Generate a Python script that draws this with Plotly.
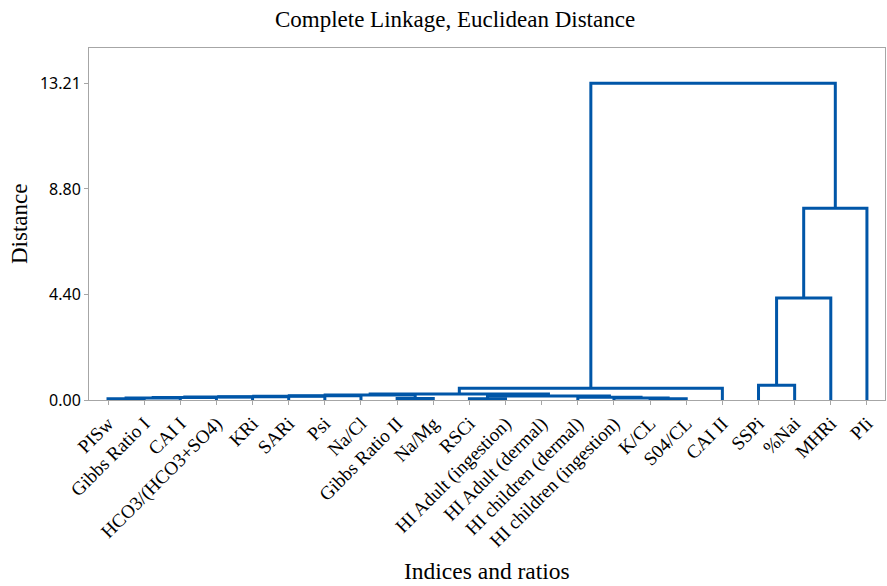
import plotly.graph_objects as go

# Leaf labels in dendrogram order
leaves = ["PISw", "Gibbs Ratio I", "CAI I", "HCO3/(HCO3+SO4)", "KRi", "SARi", "Psi",
          "Na/Cl", "Gibbs Ratio II", "Na/Mg", "RSCi", "HI Adult (ingestion)",
          "HI Adult (dermal)", "HI children (dermal)", "HI children (ingestion)",
          "K/CL", "S04/CL", "CAI II", "SSPi", "%Nai", "MHRi", "PIi"]

# Merge steps: (left member, right member, distance); members are leaf names or "#k" for step k
merge_left = ["PISw", "#0", "#1", "#2", "#3", "#4", "#5", "Gibbs Ratio II", "#6",
              "K/CL", "HI children (ingestion)", "HI children (dermal)", "RSCi", "#11",
              "#8", "#14", "SSPi", "#16", "#17", "#15"]
merge_right = ["Gibbs Ratio I", "CAI I", "HCO3/(HCO3+SO4)", "KRi", "SARi", "Psi", "Na/Cl",
               "Na/Mg", "#7", "S04/CL", "#9", "#10", "HI Adult (ingestion)", "#12",
               "#13", "CAI II", "%Nai", "MHRi", "PIi", "#18"]
merge_height = [0.05, 0.08, 0.10, 0.12, 0.14, 0.16, 0.18, 0.06, 0.21,
                0.05, 0.08, 0.11, 0.05, 0.17,
                0.25, 0.49, 0.62, 4.25, 8.00, 13.21]

y_tickvals = [0.00, 4.40, 8.80, 13.21]
y_ticktext = ["0.00", "4.40", "8.80", "13.21"]

# Build dendrogram segments
pos = {name: i + 1 for i, name in enumerate(leaves)}
hgt = {name: 0.0 for name in leaves}
xs, ys = [], []
for k, (a, b, h) in enumerate(zip(merge_left, merge_right, merge_height)):
    xa, xb = pos[a], pos[b]
    xs += [xa, xa, xb, xb, None]
    ys += [hgt[a], h, h, hgt[b], None]
    pos["#%d" % k] = (xa + xb) / 2
    hgt["#%d" % k] = h

fig = go.Figure()
fig.add_trace(go.Scatter(x=xs, y=ys, mode="lines",
                         line=dict(color="#0056a8", width=3),
                         hoverinfo="skip", showlegend=False))

serif = "Liberation Serif, Times New Roman, serif"
grey = "#a6a6a6"

fig.update_layout(
    width=887, height=586,
    margin=dict(l=89, r=2, t=48, b=186, autoexpand=False),
    paper_bgcolor="white", plot_bgcolor="white",
    title=dict(text="Complete Linkage, Euclidean Distance", x=0.513, xanchor="center",
               y=1 - 19 / 586, yanchor="middle", yref="container",
               font=dict(family=serif, size=23, color="black")),
    xaxis=dict(range=[0.474, 22.5], tickvals=list(range(1, len(leaves) + 1)),
               ticktext=leaves, tickangle=-45, ticks="outside", ticklen=4,
               tickcolor=grey, showline=True, linecolor=grey, linewidth=1, mirror=True,
               showgrid=False, zeroline=False, automargin=False,
               tickfont=dict(family=serif, size=19, color="black")),
    yaxis=dict(range=[0, 14.68], tickvals=y_tickvals, ticktext=y_ticktext,
               ticks="outside", ticklen=4, tickcolor=grey, showline=True,
               linecolor=grey, linewidth=1, mirror=True, showgrid=False,
               zeroline=False, automargin=False,
               tickfont=dict(family="Noto Sans, sans-serif", size=16, color="black")),
    annotations=[
        dict(text="Indices and ratios", xref="paper", yref="paper", x=0.5, y=-171 / 352,
             xanchor="center", yanchor="middle", showarrow=False,
             font=dict(family=serif, size=23.5, color="black")),
        dict(text="Distance", xref="paper", yref="paper", x=-70 / 796, y=0.5,
             xanchor="center", yanchor="middle", textangle=-90, showarrow=False,
             font=dict(family=serif, size=23, color="black")),
    ],
)

fig.write_html("out.html", config={"displayModeBar": False},
               post_script="document.body.style.margin='0';document.body.style.overflow='hidden';")
